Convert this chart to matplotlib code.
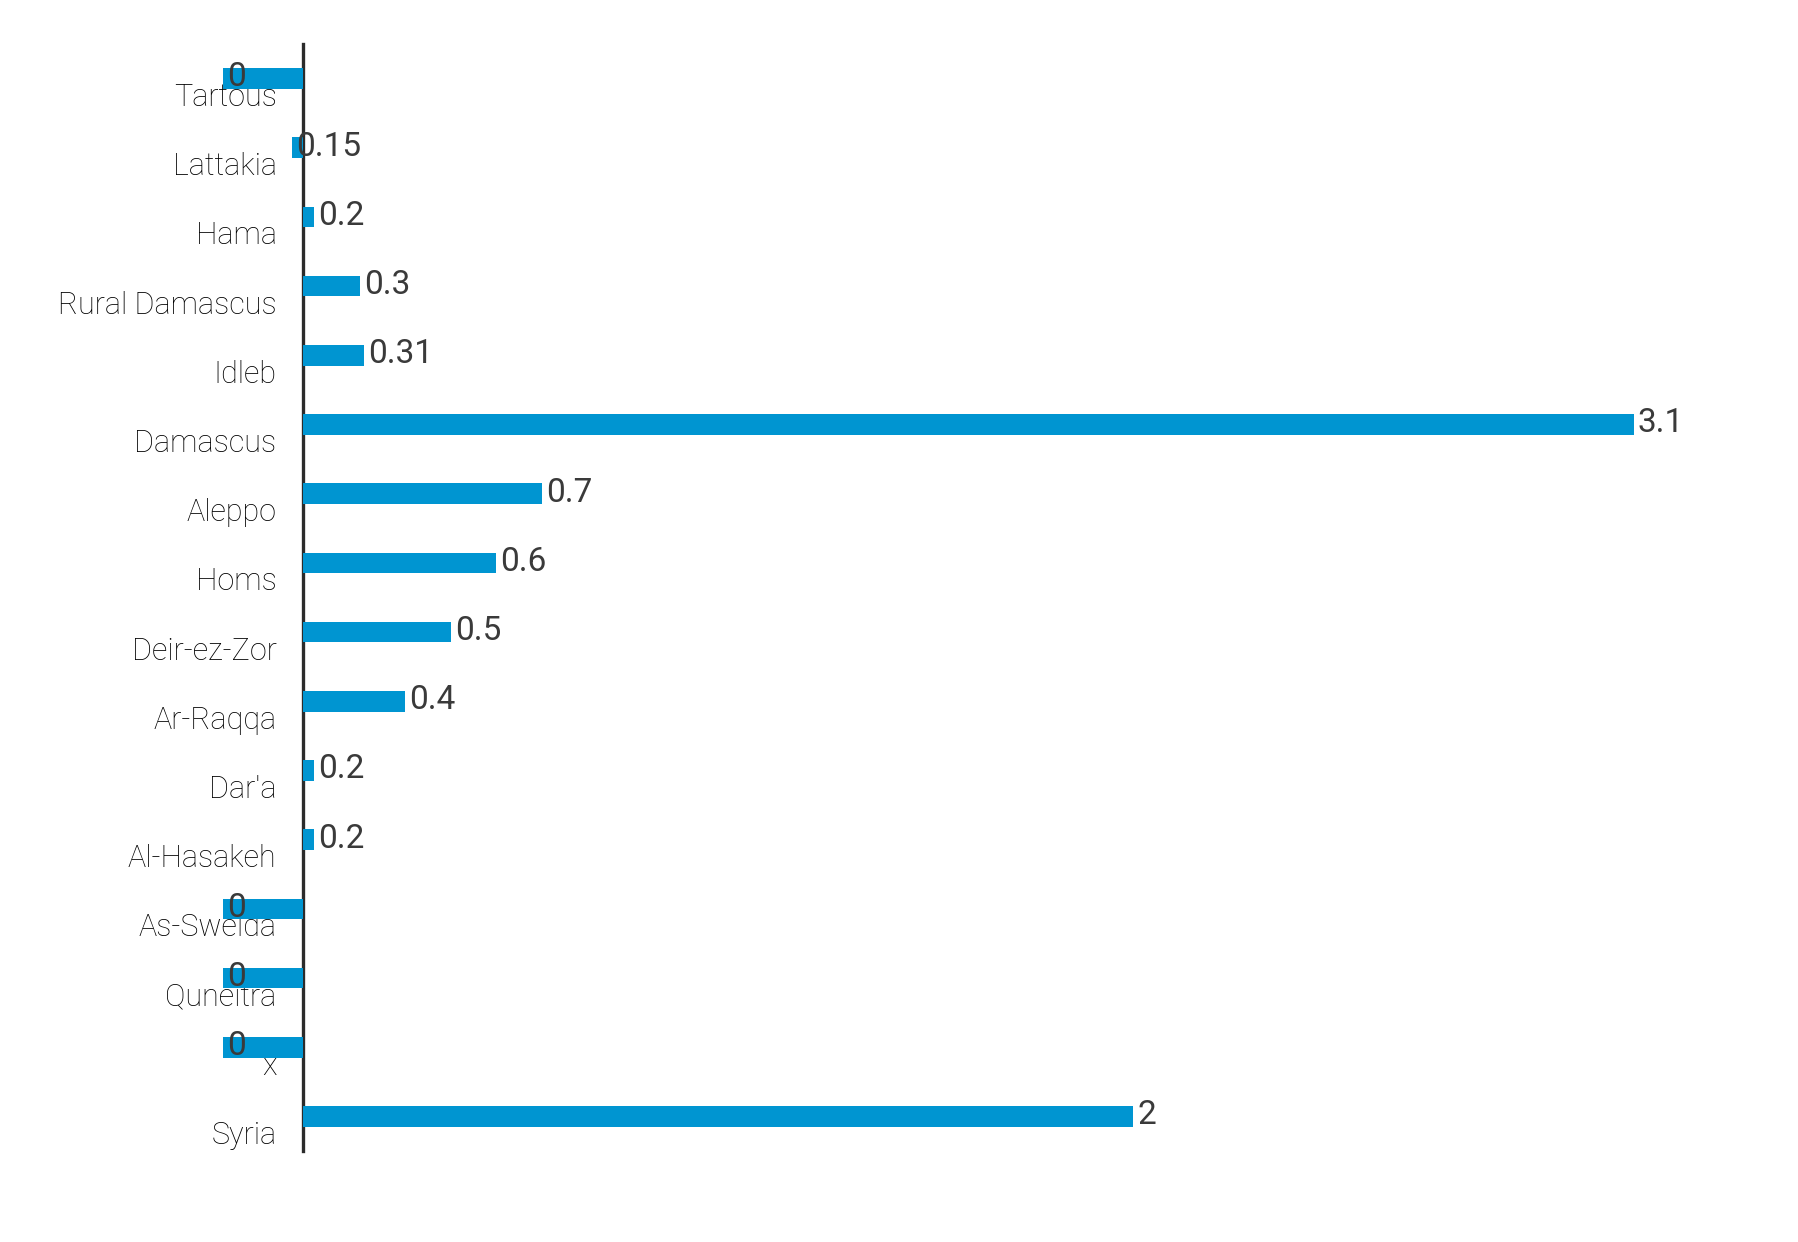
import matplotlib
matplotlib.use("Agg")
import matplotlib.pyplot as plt
from matplotlib.transforms import ScaledTranslation

categories = ["Tartous", "Lattakia", "Hama", "Rural Damascus", "Idleb", "Damascus",
              "Aleppo", "Homs", "Deir-ez-Zor", "Ar-Raqqa", "Dar'a", "Al-Hasakeh",
              "As-Sweida", "Quneitra", "x", "Syria"]
values = [0, 0.15, 0.2, 0.3, 0.31, 3.1, 0.7, 0.6, 0.5, 0.4, 0.2, 0.2, 0, 0, 0, 2]
value_labels = ["0", "0.15", "0.2", "0.3", "0.31", "3.1", "0.7", "0.6", "0.5", "0.4",
                "0.2", "0.2", "0", "0", "0", "2"]

BASE = 0.175          # axis crossing value (bars grow from here)
DPI = 100
W, H = 1798, 1242
PX_PER_UNIT = 455.0
AXIS_PX = 303.0
ROW0_PX = 78.5
ROW_PX = 69.2

plt.rcParams['font.family'] = ['Roboto', 'DejaVu Sans']

fig = plt.figure(figsize=(W / DPI, H / DPI), dpi=DPI)
ax = fig.add_axes([0, 0, 1, 1])

x_min = BASE - AXIS_PX / PX_PER_UNIT
x_max = BASE + (W - AXIS_PX) / PX_PER_UNIT
y_top = -ROW0_PX / ROW_PX
y_bot = (H - ROW0_PX) / ROW_PX

ypos = list(range(len(categories)))
widths = [v - BASE for v in values]
ax.barh(ypos, widths, left=BASE, height=0.30, color="#0095d1", zorder=2)

ax.set_xlim(x_min, x_max)
ax.set_ylim(y_bot, y_top)

for s in ["top", "right", "bottom"]:
    ax.spines[s].set_visible(False)
ax.spines["left"].set_position(("data", BASE))
ax.spines["left"].set_bounds(len(categories) - 0.5, -0.5)
ax.spines["left"].set_color("#2b2b2b")
ax.spines["left"].set_linewidth(2.4)
ax.spines["left"].set_zorder(1)

ax.set_xticks([])
ax.set_yticks(ypos)
ax.set_yticklabels(categories, fontsize=22, fontweight="light", color="#000000")
ax.tick_params(axis="y", length=0, pad=19)
off = ScaledTranslation(0, -16 / DPI, fig.dpi_scale_trans)
for lbl in ax.get_yticklabels():
    lbl.set_transform(lbl.get_transform() + off)

txt_off = ScaledTranslation(4 / DPI, 1 / DPI, fig.dpi_scale_trans)
for y, v, t in zip(ypos, values, value_labels):
    ax.text(v, y, t, ha="left", va="center", fontsize=24, fontweight="normal",
            color="#3a3a3a", transform=ax.transData + txt_off, zorder=3)

fig.savefig("out.png", dpi=DPI, facecolor="white")
